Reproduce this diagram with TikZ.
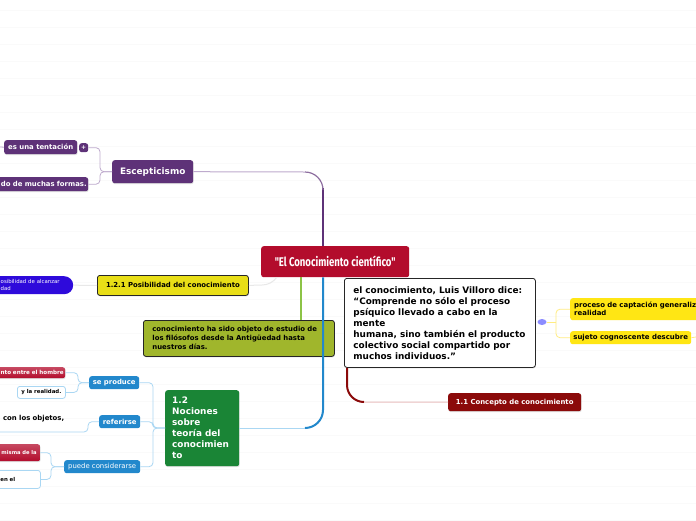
\documentclass[tikz,border=0pt]{standalone}
\usepackage{fontspec}
\usepackage{tikz}
\usetikzlibrary{shadows,shapes.geometric}
\setmainfont{DejaVu Sans}
\newfontfamily\titlefont[FakeStretch=0.76]{Fira Sans}
\definecolor{rootred}{RGB}{179,12,44}
\definecolor{skeppurple}{RGB}{94,50,120}
\definecolor{skeplight}{RGB}{190,170,205}
\definecolor{nocblue}{RGB}{34,136,204}
\definecolor{noclight}{RGB}{170,215,243}
\definecolor{nocgreen}{RGB}{26,133,54}
\definecolor{possyellow}{RGB}{232,222,23}
\definecolor{olive}{RGB}{160,182,44}
\definecolor{limeline}{RGB}{140,195,70}
\definecolor{darkred}{RGB}{139,10,10}
\definecolor{pinkline}{RGB}{232,190,190}
\definecolor{signyellow}{RGB}{255,230,20}
\definecolor{signlight}{RGB}{255,236,130}
\definecolor{pillblue}{RGB}{46,10,219}
\definecolor{greyline}{RGB}{232,232,232}
\definecolor{stripe}{RGB}{250,250,250}
\tikzset{
  box/.style={anchor=north west,rounded corners=2.5pt,inner xsep=0pt,inner ysep=0pt,align=left,font=\bfseries\fontsize{6.9}{8.5}\selectfont},
  shade/.style={drop shadow={opacity=.25,shadow xshift=.5pt,shadow yshift=-1pt}},
  purplebox/.style={box,fill=skeppurple,text=white,shade},
  bluebox/.style={box,fill=nocblue,text=white},
  outlined/.style={box,draw=black!85,line width=.8pt,shade},
  redbox/.style={box,top color=rootred!75,bottom color=rootred,text=white,shade},
  whitebox/.style={box,fill=white,draw=noclight,line width=.8pt},
  link/.style={rounded corners=4pt,line width=.8pt}
}
\begin{document}
\begin{tikzpicture}[x=1pt,y=-1pt]
\path[clip] (0,0) rectangle (696,520);
\fill[white] (0,0) rectangle (696,520);
\foreach \stripey in {10,27,...,520}
  \draw[stripe,line width=.8pt] (0,\stripey) -- (696,\stripey);
% central topic
\node[box,fill=rootred,text=white,minimum width=148pt,minimum height=31pt,align=center,font=\titlefont\bfseries\fontsize{12.6}{14}\selectfont] (root) at (261,246) {"El Conocimiento científico"};
% skepticism branch
\node[purplebox,minimum width=81pt,minimum height=23pt,align=center,font=\bfseries\fontsize{8.9}{10}\selectfont] (escep) at (112,160) {Escepticismo};
\node[purplebox,minimum width=73pt,minimum height=14pt,align=center] (tentacion) at (4,140) {es una tentación};
\node[box,fill=skeppurple,text=white,minimum width=9pt,minimum height=9pt,align=center,font=\bfseries\fontsize{6}{6}\selectfont] (plusicon) at (79,143) {+};
\node[purplebox,minimum width=98pt,minimum height=14pt,text width=95pt,align=right] (formas) at (-10,177) {do de muchas formas.};
% possibility branch
\node[outlined,fill=possyellow,minimum width=151pt,minimum height=20pt,align=center] (posib) at (97,275) {1.2.1 Posibilidad del conocimiento};
\node[box,fill=pillblue,text=white,rounded corners=9pt,minimum width=83pt,minimum height=18pt,text width=83pt,font=\fontsize{5.4}{7.5}\selectfont] (alcanzar) at (-10,276) {\hspace*{10.5pt}osibilidad de alcanzar\\\hspace*{10.5pt}dad};
% olive note
\node[outlined,fill=olive,minimum width=191pt,minimum height=36pt,text width=191pt,font=\bfseries\fontsize{6.9}{9}\selectfont] (estudio) at (143,320) {\hspace*{9pt}conocimiento ha sido objeto de estudio de\\\hspace*{9pt}los filósofos desde la Antigüedad hasta\\\hspace*{9pt}nuestros días.};
% quote and concept
\node[outlined,fill=white,minimum width=191pt,minimum height=89pt,text width=191pt,font=\bfseries\fontsize{8.9}{11}\selectfont] (quote) at (344,278) {\hspace*{9pt}el conocimiento, Luis Villoro dice:\\\hspace*{9pt}“Comprende no sólo el proceso\\\hspace*{9pt}psíquico llevado a cabo en la\\\hspace*{9pt}mente\\\hspace*{9pt}humana, sino también el producto\\\hspace*{9pt}colectivo social compartido por\\\hspace*{9pt}muchos individuos.”};
\node[box,fill=darkred,text=white,minimum width=133pt,minimum height=18pt,align=center,shade] (concepto) at (448,393) {1.1 Concepto de conocimiento};
\node[box,fill=signyellow,minimum width=130pt,minimum height=22pt,text width=130pt,font=\bfseries\fontsize{6.95}{8}\selectfont] (captacion) at (570,298) {\hspace*{4pt}proceso de captación generaliz\\\hspace*{4pt}realidad};
\node[box,fill=signyellow,minimum width=121pt,minimum height=13pt,align=center,font=\bfseries\fontsize{6.95}{8}\selectfont] (sujeto) at (570,331) {sujeto cognoscente descubre};
\node[ellipse,anchor=center,fill=blue!45,inner sep=0pt,minimum width=9pt,minimum height=6pt] (quoteicon) at (542,322) {};
% theory branch
\node[box,fill=nocgreen,text=white,minimum width=74pt,minimum height=76pt,text width=74pt,font=\bfseries\fontsize{8.9}{11}\selectfont,shade] (teoria) at (165,390) {\hspace*{7pt}1.2\\\hspace*{7pt}Nociones\\\hspace*{7pt}sobre\\\hspace*{7pt}teoría del\\\hspace*{7pt}conocimien\\\hspace*{7pt}to};
\node[bluebox,minimum width=50pt,minimum height=13pt,align=center] (seproduce) at (89,376) {se produce};
\node[bluebox,minimum width=41pt,minimum height=13pt,align=center] (referirse) at (99,415) {referirse};
\node[bluebox,minimum width=76pt,minimum height=13pt,align=center,font=\fontsize{6.9}{8}\selectfont] (puede) at (64,460) {puede considerarse};
\node[redbox,minimum width=75pt,minimum height=11pt,text width=72pt,align=right,font=\bfseries\fontsize{5.6}{6}\selectfont] (hombre) at (-10,367) {nto entre el hombre};
\node[whitebox,minimum width=48pt,minimum height=12pt,align=center,font=\bfseries\fontsize{5.4}{6}\selectfont] (realidad) at (17,386) {y la realidad.};
\node[box,minimum width=64pt,minimum height=12pt,text width=64pt,align=right] (objetos) at (0,412) {con los objetos,};
\coordinate (objetosend) at (0,432);
\node[redbox,minimum width=50pt,minimum height=17pt,text width=43pt,align=right,font=\bfseries\fontsize{5.2}{6}\selectfont] (misma) at (-10,444) {misma de la};
\node[whitebox,minimum width=50pt,minimum height=18pt,text width=50pt,font=\bfseries\fontsize{5.4}{6}\selectfont] (enel) at (-10,470) {\hspace*{10pt}en el};
% connectors
\coordinate (purplebend) at (323,172);
\draw[skeppurple,line width=2pt] (root.north -| purplebend) -- (323,188);
\draw[skeppurple!70,line width=1.2pt] (323,190) arc (0:-90:18);
\draw[skeplight,line width=1pt] (305,172) -- (escep.east);
\coordinate (bluebend) at (323,428);
\draw[nocblue,line width=2pt] (root.south -| bluebend) -- (323,410) arc (0:90:18);
\draw[noclight,line width=1pt] (305,428) -- (teoria.east |- bluebend);
\draw[limeline,line width=2pt] (root.south -| 301,0) -- (estudio.north -| 301,0);
\draw[darkred,line width=2pt] (quote.south -| 347,0) -- (347,385) arc (180:90:17);
\draw[pinkline,line width=1pt] (364,402) -- (concepto.west);
\draw[greyline,line width=1pt] (posib.east) -- (262,285) arc (90:35:18);
\draw[greyline,line width=1pt] (posib.west) -- (alcanzar.east);
\draw[skeplight,link] (escep.west) -- ++(-12,0) |- (plusicon.east);
\draw[skeplight,link] (escep.west) -- ++(-12,0) |- (formas.east);
\draw[skeplight,line width=.8pt] (tentacion.west) -- (0,147);
\draw[noclight,link] (teoria.west |- 0,428) -- (153,428) |- (seproduce.east);
\draw[noclight,link] (teoria.west |- 0,428) -- (153,428) |- (referirse.east);
\draw[noclight,link] (teoria.west |- 0,428) -- (153,428) |- (puede.east);
\draw[noclight,link] (seproduce.west) -- ++(-11,0) |- (hombre.east);
\draw[noclight,link] (seproduce.west) -- ++(-11,0) |- (realidad.east);
\draw[noclight,link] (referirse.west) -- ++(-11,0) |- (objetosend);
\draw[noclight,link] (puede.west) -- ++(-13,0) |- (misma.east);
\draw[noclight,link] (puede.west) -- ++(-13,0) |- (enel.east);
\draw[signlight,line width=.8pt] (quoteicon.east) -- (556,322);
\draw[signlight,link] (556,322) |- (captacion.west);
\draw[signlight,link] (556,322) |- (sujeto.west);
\draw[signlight,line width=.8pt] (sujeto.east) -- (696,337);
\end{tikzpicture}
\end{document}
